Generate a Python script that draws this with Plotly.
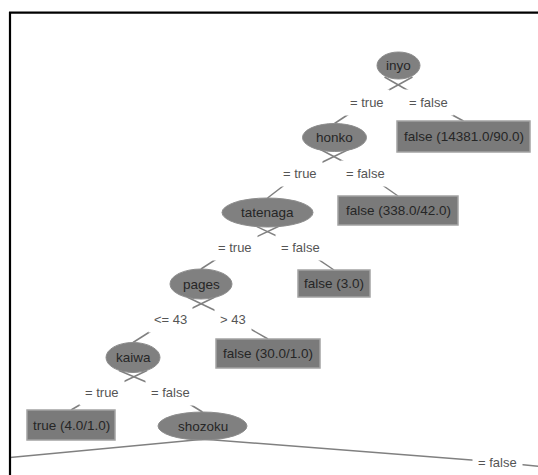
import plotly.graph_objects as go

# ---------------- data (tree content) ----------------
node_names = ["inyo", "honko", "tatenaga", "pages", "kaiwa", "shozoku"]
leaf_ids = ["L0", "L1", "L2", "L3", "L4"]
leaf_labels = ["false (14381.0/90.0)", "false (338.0/42.0)", "false (3.0)",
               "false (30.0/1.0)", "true (4.0/1.0)"]
edge_parents = ["inyo", "inyo", "honko", "honko", "tatenaga", "tatenaga",
                "pages", "pages", "kaiwa", "kaiwa", "shozoku", "shozoku"]
edge_children = ["honko", "L0", "tatenaga", "L1", "pages", "L2",
                 "kaiwa", "L3", "L4", "shozoku", "offL", "offR"]
edge_labels = ["= true", "= false", "= true", "= false", "= true", "= false",
               "<= 43", "> 43", "= true", "= false", "", "= false"]

# ---------------- layout (pixel positions in axis units) ----------------
W, H = 538, 475
node_pos = {  # cx, cy, rx, ry
    "inyo": (398.5, 65.5, 21.5, 13.5),
    "honko": (334.5, 137.5, 32, 14),
    "tatenaga": (267.5, 212.5, 45.5, 14.5),
    "pages": (201, 284, 31, 15),
    "kaiwa": (133, 357.5, 27, 15),
    "shozoku": (202.5, 426, 44.5, 14),
}
leaf_box = {  # x0, y0, x1, y1
    "L0": (397, 121, 530, 152),
    "L1": (338, 196, 458, 225),
    "L2": (298, 270, 370, 297),
    "L3": (216, 339, 320, 368),
    "L4": (27, 410, 115, 440),
}
off_pos = {"offL": (10, 457.5), "offR": (545, 467)}
label_pos = [(367, 102), (428, 102), (300, 173), (365, 173), (235, 247), (300, 247),
             (170, 319), (233, 319), (102, 392), (170, 392), None, (497, 462)]

EDGE_COL = "#808080"
NODE_COL = "#808080"
FONT = "Liberation Sans, Arial, sans-serif"

fig = go.Figure()
shapes = []
annotations = []


def child_top(cid):
    if cid in node_pos:
        cx, cy, rx, ry = node_pos[cid]
        return cx, cy - ry
    if cid in leaf_box:
        x0, y0, x1, y1 = leaf_box[cid]
        return (x0 + x1) / 2, y0
    return off_pos[cid]


def seg(x0, y0, x1, y1):
    shapes.append(dict(type="line", xref="x", yref="y", x0=x0, y0=y0, x1=x1, y1=y1,
                       line=dict(color=EDGE_COL, width=1.5), layer="below"))


# edges: left-going edges start right of parent centre, right-going start left (X look)
for p, c, lab, lp in zip(edge_parents, edge_children, edge_labels, label_pos):
    pcx, pcy, prx, pry = node_pos[p]
    tx, ty = child_top(c)
    off = 14 if tx < pcx else -14
    sx, sy = pcx + off, pcy + pry - 2
    if lp is None:
        seg(sx, sy, tx, ty)
    else:
        lx, ly = lp
        seg(sx, sy, lx, ly)
        seg(lx, ly, tx, ty)
        annotations.append(dict(x=lx, y=ly, xref="x", yref="y", text=lab, showarrow=False,
                                bgcolor="white", borderpad=5,
                                font=dict(family=FONT, size=13, color="#555555")))

# internal nodes (ellipses)
for name in node_names:
    cx, cy, rx, ry = node_pos[name]
    shapes.append(dict(type="circle", xref="x", yref="y", x0=cx - rx, x1=cx + rx,
                       y0=cy - ry, y1=cy + ry, fillcolor=NODE_COL,
                       line=dict(color="#8c8c8c", width=1)))
    annotations.append(dict(x=cx, y=cy, xref="x", yref="y", text=name, showarrow=False,
                            font=dict(family=FONT, size=13.5, color="#262626")))

# leaves (boxes)
for lid, lab in zip(leaf_ids, leaf_labels):
    x0, y0, x1, y1 = leaf_box[lid]
    shapes.append(dict(type="rect", xref="x", yref="y", x0=x0, x1=x1, y0=y0, y1=y1,
                       fillcolor="#7a7a7a", line=dict(color="#a3a3a3", width=1.5)))
    annotations.append(dict(x=(x0 + x1) / 2, y=(y0 + y1) / 2, xref="x", yref="y", text=lab,
                            showarrow=False,
                            font=dict(family=FONT, size=13.5, color="#262626")))

# panel frame (top and left edges)
shapes.append(dict(type="line", xref="x", yref="y", x0=9, y0=12.7, x1=W + 5, y1=12.7,
                   line=dict(color="black", width=2.2)))
shapes.append(dict(type="line", xref="x", yref="y", x0=10, y0=12, x1=10, y1=H + 5,
                   line=dict(color="black", width=2.2)))

fig.add_trace(go.Scatter(x=[0, W], y=[0, H], mode="markers",
                         marker=dict(opacity=0), hoverinfo="skip", showlegend=False))

fig.update_layout(
    width=W, height=H, margin=dict(l=0, r=0, t=0, b=0),
    paper_bgcolor="white", plot_bgcolor="white",
    xaxis=dict(range=[0, W], visible=False, fixedrange=True),
    yaxis=dict(range=[H, 0], visible=False, fixedrange=True),
    shapes=shapes, annotations=annotations, showlegend=False,
)

fig.write_html(
    "out.html",
    config={"displayModeBar": False},
    post_script="document.body.style.margin='0';document.body.style.padding='0';"
                "document.documentElement.style.overflow='hidden';"
                "document.body.style.overflow='hidden';",
)
